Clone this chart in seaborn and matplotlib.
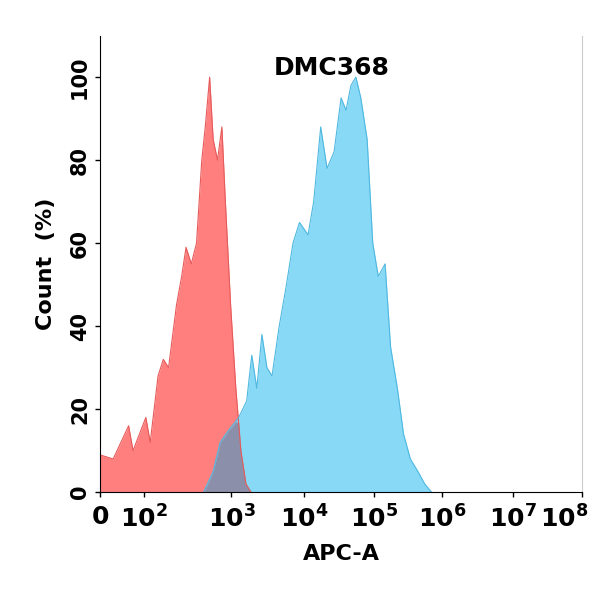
import numpy as np
import matplotlib.pyplot as plt
import matplotlib.transforms as mtransforms
import seaborn as sns
import pandas as pd

# x values in APC-A units (exponents for values above 100), y in Count (%)
red_lin = [0, 30, 65, 75]
red_lin_y = [9, 8, 16, 10]
red_exp = [2.02, 2.07, 2.16, 2.22, 2.28, 2.37, 2.43, 2.48, 2.54, 2.60, 2.66, 2.70, 2.75,
           2.79, 2.84, 2.89, 2.93, 2.99, 3.06, 3.13, 3.20, 3.27]
red_exp_y = [18, 12, 28, 32, 30, 45, 52, 59, 55, 60, 80, 88, 100,
             85, 80, 88, 70, 45, 25, 10, 2, 0]
blue_exp = [2.68, 2.79, 2.87, 2.97, 3.10, 3.21, 3.28, 3.35, 3.42, 3.49, 3.56, 3.66, 3.76,
            3.85, 3.94, 4.06, 4.14, 4.24, 4.33, 4.43, 4.53, 4.60, 4.67, 4.74, 4.81, 4.90,
            4.98, 5.06, 5.16, 5.24, 5.34, 5.43, 5.53, 5.64, 5.74, 5.84]
blue_y = [0, 5, 12, 15, 18, 22, 33, 25, 38, 30, 28, 40, 50,
          60, 65, 62, 70, 88, 78, 82, 95, 92, 98, 100, 95, 85,
          60, 52, 55, 35, 25, 14, 8, 5, 2, 0]
tick_vals = [0, 1e2, 1e3, 1e4, 1e5, 1e6, 1e7, 1e8]
tick_labels = ['$\\mathbf{0}$'] + ['$\\mathbf{10^{%d}}$' % k for k in range(2, 9)]
tick_pos = [0, 44, 131, 203, 273, 341, 411, 480]

red = pd.DataFrame({'x': np.concatenate([red_lin, 10 ** np.array(red_exp)]),
                    'y': red_lin_y + red_exp_y})
blue = pd.DataFrame({'x': 10 ** np.array(blue_exp), 'y': blue_y})

def fwd(x):
    x = np.asarray(x, dtype=float)
    lg = np.log10(np.clip(x, 100, None))
    return np.where(x <= 100, x * 0.44, np.interp(lg, np.arange(2, 9), tick_pos[1:]))

def inv(u):
    u = np.asarray(u, dtype=float)
    v = 10 ** np.interp(u, tick_pos[1:], np.arange(2, 9))
    return np.where(u <= 44, u / 0.44, v)

fig = plt.figure(figsize=(5.91, 5.93), dpi=100)
ax = fig.add_axes([0.169, 0.17, 0.816, 0.77])
ax.set_xscale('function', functions=(fwd, inv))

grid = np.unique(np.concatenate([red.x, blue.x]))
ry = np.interp(grid, red.x, red.y, right=0)
by = np.interp(grid, blue.x, blue.y, left=0)
ax.fill_between(red.x, red.y, color='#ff7f7f', lw=0)
ax.fill_between(blue.x, blue.y, color='#87d9f6', lw=0)
ax.fill_between(grid, np.minimum(ry, by), color='#8c8fa9', lw=0)
sns.lineplot(data=red, x='x', y='y', ax=ax, color='#e65a5a', lw=0.8)
sns.lineplot(data=blue, x='x', y='y', ax=ax, color='#4fb8e0', lw=0.8)

ax.set_xlim(0, 1e8)
ax.set_ylim(0, 110)
ax.set_xticks(tick_vals)
ax.set_xticklabels(tick_labels)
ax.set_yticks([0, 20, 40, 60, 80, 100])
ax.tick_params(axis='x', labelsize=18, width=1, pad=6)
ax.tick_params(axis='y', labelsize=15, width=1)
for t in ax.get_yticklabels():
    t.set_fontweight('bold')
last = ax.get_xticklabels()[-1]
last.set_horizontalalignment('right')
last.set_transform(last.get_transform() + mtransforms.ScaledTranslation(0.06, 0, fig.dpi_scale_trans))
plt.setp(ax.get_yticklabels(), rotation=90, va='center')
ax.spines['top'].set_visible(False)
ax.spines['right'].set_color('#cccccc')
ax.set_xlabel('APC-A', fontsize=16, fontweight='bold', labelpad=8)
ax.set_ylabel('Count  (%)', fontsize=16, fontweight='bold', labelpad=10)
ax.text(0.48, 0.93, 'DMC368', transform=ax.transAxes, ha='center', va='center',
        fontsize=18, fontweight='bold')
fig.savefig('out.png', dpi=100)
